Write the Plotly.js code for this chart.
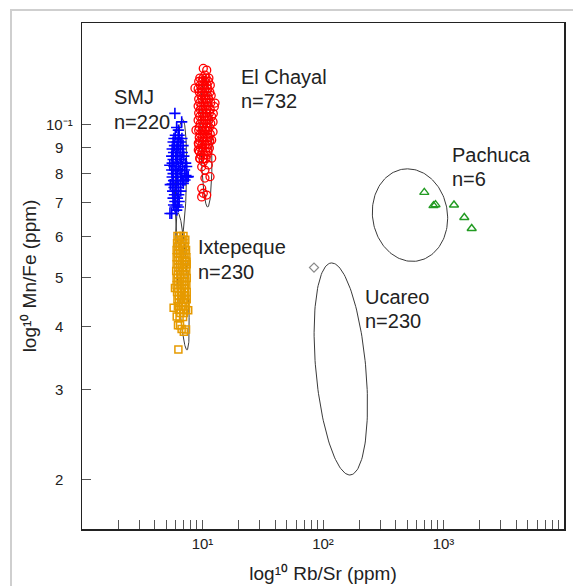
<!DOCTYPE html>
<html>
<head>
<meta charset="utf-8">
<script src="https://cdn.plot.ly/plotly-3.0.1.min.js"></script>
<style>
  html, body { margin: 0; padding: 0; background: #fff; }
  #wrap { position: relative; width: 573px; height: 586px; overflow: hidden; }
  #chart { position: absolute; left: 0; top: 0; width: 573px; height: 586px; }
  #frame { position: absolute; left: 10px; top: 9px; width: 700px; height: 700px;
           border-left: 2px solid #cfcfcf; border-top: 2px solid #cfcfcf; pointer-events: none; }
</style>
</head>
<body>
<div id="wrap"><div id="chart"></div><div id="frame"></div></div>
<script>
// ---------------- data ----------------
// El Chayal (n=732) : Rb/Sr , Mn/Fe
const chayalX = [
  9.5,10.1,10.7,11.3, 9.3,9.9,10.5,11.2, 9.6,10.2,10.9,11.6, 9.2,9.8,10.4,11.1,
  9.4,10.0,10.8,11.5, 9.7,10.3,11.0,11.8, 9.3,9.9,10.6,11.3, 9.5,10.2,10.9,11.7,
  9.2,9.8,10.5,11.2, 9.6,10.1,10.8,11.6, 9.3,10.0,10.7,11.4, 9.5,10.3,11.0,11.9,
  9.2,9.9,10.6,11.3, 9.6,10.2,10.9,11.7, 9.4,10.0,10.7,11.4, 9.3,9.9,10.5,11.1,
  9.6,10.3,11.0,11.6, 9.4,10.0,10.6,11.3, 9.5,10.2,10.9,11.5, 9.3,9.9,10.5,11.2,
  9.6,10.1,10.8,11.4, 9.4,10.0,10.6,11.1, 9.7,10.3,10.9, 9.5,10.1,10.7,
  10.84,10.15,10.48,8.66,12.53,12.23,12.23,11.92,11.92,9.23,9.23,9.51,10.15,11.17,
  9.85,10.48,11.54,10.48,9.85,10.15,10.84,9.85,8.83,12.7,12.29
];
const chayalY = [
  0.1232,0.1232,0.1232,0.1232, 0.1213,0.1213,0.1213,0.1213, 0.1193,0.1193,0.1193,0.1193, 0.1174,0.1174,0.1174,0.1174,
  0.1156,0.1156,0.1156,0.1156, 0.1138,0.1138,0.1138,0.1138, 0.1120,0.1120,0.1120,0.1120, 0.1102,0.1102,0.1102,0.1102,
  0.1085,0.1085,0.1085,0.1085, 0.1068,0.1068,0.1068,0.1068, 0.1051,0.1051,0.1051,0.1051, 0.1035,0.1035,0.1035,0.1035,
  0.1018,0.1018,0.1018,0.1018, 0.1002,0.1002,0.1002,0.1002, 0.0986,0.0986,0.0986,0.0986, 0.0971,0.0971,0.0971,0.0971,
  0.0956,0.0956,0.0956,0.0956, 0.0941,0.0941,0.0941,0.0941, 0.0926,0.0926,0.0926,0.0926, 0.0911,0.0911,0.0911,0.0911,
  0.0897,0.0897,0.0897,0.0897, 0.0883,0.0883,0.0883,0.0883, 0.0869,0.0869,0.0869, 0.0855,0.0855,0.0855,
  0.1277,0.1287,0.1249,0.1177,0.1082,0.1010,0.0966,0.0930,0.0857,0.0917,0.0889,0.0857,0.0843,0.0831,
  0.0824,0.0812,0.0788,0.0783,0.0747,0.0731,0.0725,0.0719,0.0973,0.1100,0.1049
];

// SMJ (n=220)
const smjX = [
  5.95,6.4, 5.8,6.3,6.75, 5.7,6.15,6.6, 5.85,6.35,6.9, 5.6,6.05,6.55, 5.75,6.25,6.8,
  5.55,6.0,6.5,7.0, 5.7,6.2,6.7, 5.6,6.05,6.55,7.25, 5.8,6.3,6.85, 5.55,6.0,6.5,7.1,
  5.7,6.2,6.7, 5.6,6.1,6.6,7.45, 5.75,6.25,6.8, 5.6,6.05,6.55, 5.8,6.3, 5.65,6.1,6.6,
  5.85,6.35, 5.7,6.2, 5.9,6.4, 5.75,6.15,
  5.9,6.72,6.3,6.1,7.39,7.62,6.93,7.16,7.29,5.55,5.37,6.11,5.91,6.3,5.35,5.4
];
const smjY = [
  0.0951,0.0951, 0.0937,0.0937,0.0937, 0.0922,0.0922,0.0922, 0.0907,0.0907,0.0907, 0.0893,0.0893,0.0893, 0.0879,0.0879,0.0879,
  0.0865,0.0865,0.0865,0.0865, 0.0852,0.0852,0.0852, 0.0838,0.0838,0.0838,0.0838, 0.0825,0.0825,0.0825, 0.0812,0.0812,0.0812,0.0812,
  0.0799,0.0799,0.0799, 0.0787,0.0787,0.0787,0.0787, 0.0774,0.0774,0.0774, 0.0762,0.0762,0.0762, 0.0750,0.0750, 0.0738,0.0738,0.0738,
  0.0726,0.0726, 0.0715,0.0715, 0.0704,0.0704, 0.0693,0.0693,
  0.1050,0.1010,0.0973,0.0985,0.0825,0.0788,0.0764,0.0776,0.0792,0.0667,0.0667,0.0677,0.0687,0.0687,0.0830,0.0760
];

// Ixtepeque (n=230)
const ixtX = [
  6.2,6.6,6.95, 6.35,6.8,7.2, 6.15,6.55,6.95, 6.3,6.75,7.15, 6.1,6.5,6.9,7.3, 6.25,6.7,7.1,
  6.1,6.5,6.95,7.35, 6.3,6.75,7.2, 6.1,6.55,7.0,7.4, 6.3,6.75,7.25, 6.05,6.5,6.95,7.35,
  6.25,6.7,7.15, 6.1,6.55,7.0,7.4, 6.3,6.8,7.2, 6.1,6.55,7.0,7.35, 6.3,6.75,7.15,
  6.15,6.6,7.05,7.4, 6.35,6.8,7.2, 6.2,6.65,7.05,7.4, 6.4,6.85,7.25, 6.25,6.7,7.1,
  6.4,6.9,7.3, 6.55,7.0, 6.45,6.9,
  5.76,6.26,6.71,7.0,6.51,6.31,7.61,7.35,5.91,6.11,7.3
];
const ixtY = [
  0.0602,0.0602,0.0602, 0.0592,0.0592,0.0592, 0.0583,0.0583,0.0583, 0.0574,0.0574,0.0574, 0.0565,0.0565,0.0565,0.0565, 0.0556,0.0556,0.0556,
  0.0547,0.0547,0.0547,0.0547, 0.0539,0.0539,0.0539, 0.0530,0.0530,0.0530,0.0530, 0.0522,0.0522,0.0522, 0.0514,0.0514,0.0514,0.0514,
  0.0506,0.0506,0.0506, 0.0498,0.0498,0.0498,0.0498, 0.0490,0.0490,0.0490, 0.0482,0.0482,0.0482,0.0482, 0.0475,0.0475,0.0475,
  0.0467,0.0467,0.0467,0.0467, 0.0460,0.0460,0.0460, 0.0452,0.0452,0.0452,0.0452, 0.0445,0.0445,0.0445, 0.0438,0.0438,0.0438,
  0.0431,0.0431,0.0431, 0.0425,0.0425, 0.0417,0.0417,
  0.0435,0.0402,0.0395,0.0390,0.0402,0.0360,0.0430,0.0536,0.0476,0.0418,0.0394
];

// Pachuca (n=6)
const pachX = [693, 826, 858, 1222, 1488, 1714];
const pachY = [0.0734, 0.0691, 0.0694, 0.0693, 0.0655, 0.0623];

// Ucareo (single plotted sample)
const ucareoX = [84.2];
const ucareoY = [0.0522];

// Ellipses: centre (data), log-decade spreads [xCos, xSin, yCos]
const ellipseNames = ['SMJ', 'Ixtepeque', 'El Chayal', 'Ucareo', 'Pachuca'];
const ellipseCX = [6.63, 6.823, 10.76, 140.5, 527.2];
const ellipseCY = [0.0769, 0.0490, 0.0924, 0.03296, 0.0662];
const ellipseXCos = [0.0124, -0.0373, -0.0112, -0.0755, -0.0207];
const ellipseXSin = [0.0456, 0.0415, 0.0456, 0.2083, 0.312];
const ellipseYCos = [0.124, 0.1348, 0.129, 0.2087, 0.0911];

// Group labels
const groupNames = ['SMJ', 'El Chayal', 'Pachuca', 'Ixtepeque', 'Ucareo'];
const groupCounts = ['n=220', 'n=732', 'n=6', 'n=230', 'n=230'];

// Tick labels
const xTickVals = [10, 100, 1000];
const xTickText = ['10\u00B9', '10\u00B2', '10\u00B3'];
const xMinorVals = [2,3,4,5,6,7,8,9,20,30,40,50,60,70,80,90,200,300,400,500,600,700,800,900,
                    2000,3000,4000,5000,6000,7000,8000,9000];
const yTickVals = [0.02, 0.03, 0.04, 0.05, 0.06, 0.07, 0.08, 0.09, 0.1];
const yTickText = ['2', '3', '4', '5', '6', '7', '8', '9', '10\u207B\u00B9'];
const xTitle = 'log\u00B9\u2070 Rb/Sr (ppm)';
const yTitle = 'log\u00B9\u2070 Mn/Fe (ppm)';

// ---------------- drawing ----------------
const FONT = 'Liberation Sans, Arial, Helvetica, sans-serif';
const traces = [];

for (let k = 0; k < ellipseNames.length; k++) {
  const ex = [], ey = [];
  const N = 160;
  for (let i = 0; i <= N; i++) {
    const t = 2 * Math.PI * i / N;
    ex.push(ellipseCX[k] * Math.pow(10, ellipseXCos[k] * Math.cos(t) + ellipseXSin[k] * Math.sin(t)));
    ey.push(ellipseCY[k] * Math.pow(10, ellipseYCos[k] * Math.cos(t)));
  }
  traces.push({x: ex, y: ey, type: 'scatter', mode: 'lines', name: ellipseNames[k] + ' ellipse',
               line: {color: '#3a3a3a', width: 1}, hoverinfo: 'skip'});
}

traces.push({x: ixtX, y: ixtY, type: 'scatter', mode: 'markers', name: 'Ixtepeque',
  marker: {symbol: 'square-open', size: 7, color: '#e69a00', line: {width: 1.5, color: '#e69a00'}}});
traces.push({x: smjX, y: smjY, type: 'scatter', mode: 'markers', name: 'SMJ',
  marker: {symbol: 'cross-thin-open', size: 8, color: '#0000ff', line: {width: 1.6, color: '#0000ff'}}});
traces.push({x: chayalX, y: chayalY, type: 'scatter', mode: 'markers', name: 'El Chayal',
  marker: {symbol: 'circle-open', size: 8, color: '#ff0000', line: {width: 1.3, color: '#ff0000'}}});
traces.push({x: pachX, y: pachY, type: 'scatter', mode: 'markers', name: 'Pachuca',
  marker: {symbol: 'triangle-up-open', size: 8, color: '#229b22', line: {width: 1.4, color: '#229b22'}}});
traces.push({x: ucareoX, y: ucareoY, type: 'scatter', mode: 'markers', name: 'Ucareo',
  marker: {symbol: 'diamond-open', size: 7, color: '#8a8a8a', line: {width: 1.2, color: '#8a8a8a'}}});

const annotations = [];
// group labels: [x (log10), y line1 (log10), y line2 (log10)]
const labelPos = [
  [0.245, -0.9469, -0.9951],
  [1.299, -0.9067, -0.9545],
  [3.050, -1.0610, -1.1090],
  [0.942, -1.2421, -1.2913],
  [2.328, -1.3406, -1.3870]
];
for (let i = 0; i < groupNames.length; i++) {
  annotations.push({x: labelPos[i][0], y: labelPos[i][1], xref: 'x', yref: 'y', text: groupNames[i],
    showarrow: false, xanchor: 'left', yanchor: 'middle', font: {family: FONT, size: 20, color: '#222'}});
  annotations.push({x: labelPos[i][0], y: labelPos[i][2], xref: 'x', yref: 'y', text: groupCounts[i],
    showarrow: false, xanchor: 'left', yanchor: 'middle', font: {family: FONT, size: 20, color: '#222'}});
}
// y tick labels (centred, as in the original)
for (let i = 0; i < yTickVals.length; i++) {
  annotations.push({x: -0.0477, y: Math.log10(yTickVals[i]), xref: 'paper', yref: 'y', text: yTickText[i],
    showarrow: false, xanchor: 'center', yanchor: 'middle', font: {family: FONT, size: 15, color: '#222'}});
}

const layout = {
  width: 573, height: 586,
  margin: {l: 82, r: 9, t: 23, b: 57, pad: 0},
  paper_bgcolor: 'rgba(0,0,0,0)', plot_bgcolor: '#fff',
  showlegend: false,
  font: {family: FONT, color: '#222'},
  xaxis: {
    type: 'log', range: [0, 4], showgrid: false, zeroline: false,
    showline: true, mirror: true, linecolor: '#222', linewidth: 1.5,
    ticks: 'inside', ticklen: 9, tickwidth: 1, tickcolor: '#555',
    tickmode: 'array', tickvals: xTickVals, ticktext: xTickText,
    minor: {tickmode: 'array', tickvals: xMinorVals, ticks: 'inside', ticklen: 9, tickwidth: 1,
            tickcolor: '#555', showgrid: false},
    tickfont: {family: FONT, size: 15, color: '#222'},
    title: {text: xTitle, font: {family: FONT, size: 19, color: '#222'}, standoff: 16}
  },
  yaxis: {
    type: 'log', range: [-1.797, -0.801], showgrid: false, zeroline: false,
    showline: true, mirror: true, linecolor: '#222', linewidth: 1.5,
    ticks: 'inside', ticklen: 9, tickwidth: 1, tickcolor: '#555',
    tickmode: 'array', tickvals: yTickVals, ticktext: yTickText, showticklabels: false,
    title: {text: yTitle, font: {family: FONT, size: 19, color: '#222'}, standoff: 39}
  },
  annotations: annotations
};

Plotly.newPlot('chart', traces, layout, {displayModeBar: false, staticPlot: true});
</script>
</body>
</html>
